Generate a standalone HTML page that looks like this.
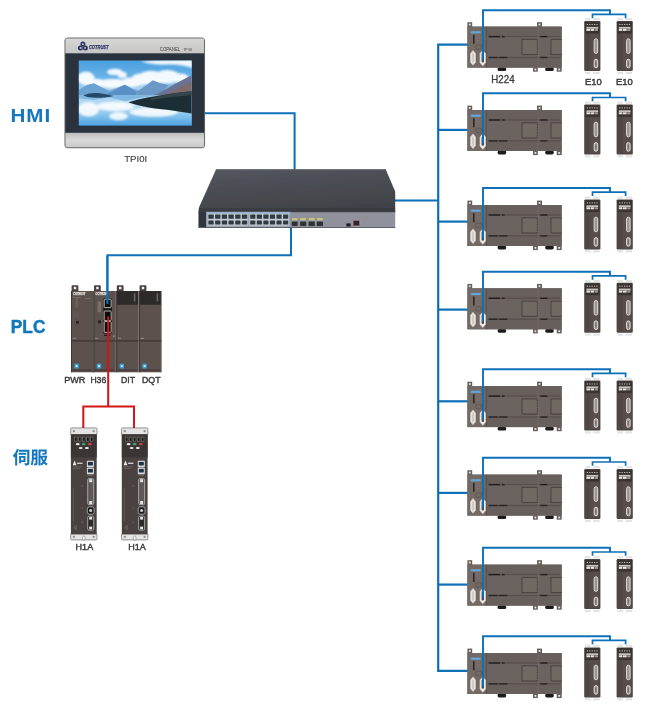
<!DOCTYPE html>
<html lang="zh">
<head>
<meta charset="utf-8">
<title>Network topology</title>
<style>
  html, body { margin: 0; padding: 0; background: #ffffff; }
  body { width: 650px; height: 721px; overflow: hidden; font-family: "Liberation Sans", sans-serif; }
  svg { display: block; }
  text { font-family: "Liberation Sans", sans-serif; }
</style>
</head>
<body>
<svg width="650" height="721" viewBox="0 0 650 721">
<rect x="0" y="0" width="650" height="721" fill="#ffffff"/>

<defs>
  <filter id="soft" x="0" y="0" width="650" height="721" filterUnits="userSpaceOnUse"><feGaussianBlur stdDeviation="0.4"/></filter>
  <filter id="soft2" x="-5%" y="-5%" width="110%" height="110%"><feGaussianBlur stdDeviation="0.3"/></filter>
  <filter id="cloud" x="-30%" y="-30%" width="160%" height="160%"><feGaussianBlur stdDeviation="0.9"/></filter>
  <filter id="mtn" x="-10%" y="-10%" width="120%" height="120%"><feGaussianBlur stdDeviation="0.4"/></filter>

  <linearGradient id="sky" x1="0" y1="0" x2="0" y2="1">
    <stop offset="0" stop-color="#4a9fdf"/>
    <stop offset="0.45" stop-color="#66b1e7"/>
    <stop offset="0.8" stop-color="#a6d2f0"/>
    <stop offset="1" stop-color="#c2e0f4"/>
  </linearGradient>
  <linearGradient id="water" x1="0" y1="0" x2="0" y2="1">
    <stop offset="0" stop-color="#a9d3f0"/>
    <stop offset="0.35" stop-color="#b7dcf4"/>
    <stop offset="0.7" stop-color="#7dbfec"/>
    <stop offset="1" stop-color="#4ea3e2"/>
  </linearGradient>
  <linearGradient id="silverTop" x1="0" y1="0" x2="0" y2="1">
    <stop offset="0" stop-color="#d6d6d4"/>
    <stop offset="1" stop-color="#c6c6c4"/>
  </linearGradient>
  <linearGradient id="silverBot" x1="0" y1="0" x2="0" y2="1">
    <stop offset="0" stop-color="#bdbdbd"/>
    <stop offset="0.5" stop-color="#d9d9d9"/>
    <stop offset="1" stop-color="#c9c9c9"/>
  </linearGradient>
  <linearGradient id="swTop" x1="0" y1="0" x2="0.3" y2="1">
    <stop offset="0" stop-color="#54565e"/>
    <stop offset="1" stop-color="#414349"/>
  </linearGradient>
  <clipPath id="screenClip"><rect x="78.8" y="60.6" width="113" height="64.8"/></clipPath>

  <!-- H224 PLC unit : local origin = body top-left, body 94.3 x 41 -->
  <g id="plc">
    <!-- mounting tabs -->
    <rect x="0" y="-4.4" width="4.8" height="5" fill="#665e5b"/>
    <rect x="1.5" y="-3" width="1.8" height="1.8" fill="#e8e4e2"/>
    <rect x="69.6" y="-4.4" width="5" height="5" fill="#665e5b"/>
    <rect x="71.2" y="-3" width="1.8" height="1.8" fill="#e8e4e2"/>
    <rect x="65.6" y="40.5" width="4.8" height="4.6" fill="#665e5b"/>
    <rect x="67.1" y="42" width="1.8" height="1.8" fill="#e8e4e2"/>
    <rect x="89.3" y="40.5" width="5" height="4.6" fill="#665e5b"/>
    <rect x="90.9" y="42" width="1.8" height="1.8" fill="#e8e4e2"/>
    <!-- feet clips -->
    <rect x="30.2" y="40.6" width="8.6" height="3.8" rx="1.6" fill="#1d1b1b"/>
    <rect x="77.8" y="40.6" width="8.6" height="3.8" rx="1.6" fill="#1d1b1b"/>
    <!-- body -->
    <rect x="0" y="0" width="94.3" height="41" fill="#6a625f"/>
    <rect x="0" y="0" width="18.8" height="41" fill="#736a66"/>
    <rect x="18.8" y="0" width="75.5" height="8.6" fill="#665e5b"/>
    <rect x="18.8" y="32.2" width="75.5" height="8.8" fill="#665e5b"/>
    <rect x="18.8" y="10.6" width="75.5" height="20" fill="#6b6360"/>
    <!-- terminal strips -->
    <rect x="20.5" y="9.3" width="73.8" height="1.3" fill="#574f4c"/>
    <rect x="20.5" y="30.2" width="73.8" height="1.3" fill="#574f4c"/>
    <rect x="21.3" y="9.3" width="11.5" height="1.4" fill="#231f1e"/>
    <rect x="34.6" y="9.3" width="2.6" height="1.4" fill="#231f1e"/>
    <rect x="73" y="9.3" width="7" height="1.4" fill="#231f1e"/>
    <rect x="21.3" y="30.2" width="9" height="1.4" fill="#2b2625"/>
    <rect x="31.5" y="30.2" width="8.5" height="1.4" fill="#2b2625"/>
    <rect x="73" y="30.2" width="7" height="1.4" fill="#2b2625"/>
    <!-- panels -->
    <rect x="54.6" y="12.8" width="15.4" height="15.2" fill="#6f6764" stroke="#48413f" stroke-width="1"/>
    <path d="M94.3,12.8 H83.6 V28 H94.3" fill="#6f6764" stroke="#48413f" stroke-width="1"/>
    <!-- seam -->
    <line x1="70.6" y1="-0.5" x2="70.6" y2="41" stroke="#7d716d" stroke-width="0.9" stroke-dasharray="1.6 1"/>
    <line x1="18.8" y1="0" x2="18.8" y2="41" stroke="#564b48" stroke-width="0.9"/>
    <!-- left section details -->
    <rect x="3.4" y="4.6" width="9.8" height="2.2" fill="#62a7da"/>
    <rect x="5.6" y="8.2" width="1.6" height="9" fill="#2e2827"/>
    <rect x="8.6" y="8.6" width="4" height="0.8" fill="#7d716d"/>
    <rect x="8.6" y="11" width="4" height="0.8" fill="#7d716d"/>
    <rect x="8.6" y="13.4" width="4" height="0.8" fill="#7d716d"/>
    <rect x="8.6" y="18.2" width="5.4" height="4.4" rx="1" fill="none" stroke="#5a4f4c" stroke-width="0.7"/>
    <!-- D-sub connectors -->
    <path d="M3.1,27 L5.6,23.9 L8.1,27 V35.6 L5.6,38.6 L3.1,35.6 Z" fill="#e9e6e2" stroke="#d6d2ce" stroke-width="0.6"/>
    <path d="M4.6,27.4 L5.6,26.2 L6.6,27.4 V35.2 L5.6,36.4 L4.6,35.2 Z" fill="#cfcac5"/>
    <path d="M12.6,27 L15.4,23.9 L18.2,27 V36 L15.4,39.2 L12.6,36 Z" fill="#eeebe8" stroke="#dad6d2" stroke-width="0.6"/>
    <rect x="14.2" y="26.4" width="2.4" height="9.4" rx="1" fill="#4a5058"/>
  </g>

  <!-- E10 module: local origin = body top-left, body 16.2 x 50 -->
  <g id="e10">
    <rect x="0.8" y="-2.8" width="14.6" height="2.2" fill="#e3e3e3"/>
    <rect x="6.4" y="-2.9" width="2.6" height="2.4" fill="#ffffff"/>
    <rect x="0.8" y="50.8" width="14.6" height="2.2" fill="#e3e3e3"/>
    <rect x="6.4" y="50.7" width="2.6" height="2.4" fill="#ffffff"/>
    <rect x="0" y="0" width="16.2" height="50" rx="1.2" fill="#4d4543"/>
    <rect x="0.9" y="0.8" width="14.4" height="11.6" fill="#3a3332"/>
    <rect x="1.2" y="13" width="13.8" height="35.8" fill="#584e4b"/>
    <rect x="1.2" y="13" width="5" height="35.8" fill="#504745"/>
    <!-- leds -->
    <g fill="#c9c3bf">
      <rect x="2.6" y="3" width="1.2" height="1"/><rect x="5" y="3" width="1.2" height="1"/>
      <rect x="7.4" y="3" width="1.2" height="1"/><rect x="9.8" y="3" width="1.2" height="1"/>
      <rect x="12.2" y="3" width="1.2" height="1"/>
    </g>
    <rect x="2.2" y="5.9" width="11.8" height="1.8" fill="#c9c2bd"/>
    <rect x="2.2" y="7.9" width="3.6" height="2" fill="#e6e2df"/>
    <rect x="6.4" y="7.9" width="3.6" height="2" fill="#e6e2df"/>
    <rect x="10.6" y="7.9" width="3.2" height="2" fill="#a09791"/>
    <!-- connectors -->
    <rect x="10" y="17.8" width="3.5" height="14.6" rx="1.75" fill="#9a9491" stroke="#e0dcd9" stroke-width="1"/>
    <rect x="10" y="38.2" width="3.5" height="8.6" rx="1.75" fill="#9a9491" stroke="#e0dcd9" stroke-width="1"/>
    <rect x="11.2" y="40.6" width="1.1" height="3.8" fill="#6b6461"/>
  </g>

  <!-- Servo drive: local origin = top-left of top bracket; 27 x 112.6 -->
  <g id="servo">
    <rect x="0.3" y="0.3" width="26.4" height="7" rx="1" fill="#e4e4e4" stroke="#6d6d6d" stroke-width="0.7"/>
    <circle cx="3.6" cy="3.6" r="1.1" fill="#8a8a8a"/><circle cx="23.4" cy="3.6" r="1.1" fill="#8a8a8a"/>
    <rect x="0.3" y="106" width="26.4" height="6.3" rx="1" fill="#e4e4e4" stroke="#6d6d6d" stroke-width="0.7"/>
    <circle cx="3.6" cy="109.2" r="1.1" fill="#8a8a8a"/><circle cx="23.4" cy="109.2" r="1.1" fill="#8a8a8a"/>
    <path d="M12.3,112.4 V109.6 a1.2,1.2 0 0 1 2.4,0 V112.4 Z" fill="#ffffff" stroke="#6d6d6d" stroke-width="0.5"/>
    <rect x="0.6" y="6.8" width="25.8" height="100" fill="#4a4240"/>
    <rect x="0.6" y="6.8" width="25.8" height="23" fill="#3b3534"/>
    <rect x="2" y="8" width="23" height="15.4" rx="0.8" fill="#3a3535"/>
    <rect x="3.6" y="9.2" width="19.8" height="4.8" fill="#1b1919"/>
    <!-- 7-seg displays -->
    <g fill="none" stroke="#8f8a86" stroke-width="0.6">
      <rect x="4" y="9.4" width="2.8" height="4.2"/><rect x="8" y="9.4" width="2.8" height="4.2"/>
      <rect x="12" y="9.4" width="2.8" height="4.2"/><rect x="16" y="9.4" width="2.8" height="4.2"/>
      <rect x="20" y="9.4" width="2.8" height="4.2"/>
    </g>
    <ellipse cx="7.4" cy="16.6" rx="2" ry="1.1" fill="#e8e8e8"/>
    <ellipse cx="13.4" cy="16.6" rx="2" ry="1.1" fill="#3fa86b"/>
    <ellipse cx="19.6" cy="16.6" rx="2" ry="1.1" fill="#d8453f"/>
    <ellipse cx="10.4" cy="20.4" rx="2" ry="1.1" fill="#e8e8e8"/>
    <ellipse cx="16.6" cy="20.4" rx="2" ry="1.1" fill="#f4f4f4"/>
    <!-- logo -->
    <path d="M2.4,37.6 L4.3,33 L6.2,37.6 Z" fill="#e8e8e8"/>
    <rect x="6.8" y="35" width="5.4" height="1.4" fill="#cfcac7"/>
    <rect x="2.6" y="39" width="9" height="0.6" fill="#7a706c"/>
    <rect x="2.6" y="40.4" width="7" height="0.6" fill="#7a706c"/>
    <!-- RJ45 -->
    <rect x="16.6" y="33.2" width="7" height="6.4" rx="0.6" fill="#d9dde2"/>
    <rect x="17.6" y="34.3" width="5" height="3.6" fill="#233345"/>
    <rect x="16.6" y="40.2" width="7" height="6.4" rx="0.6" fill="#d9dde2"/>
    <rect x="17.6" y="41.3" width="5" height="3.6" fill="#233345"/>
    <rect x="17" y="47.2" width="6" height="0.7" fill="#8a807c"/>
    <!-- D-sub -->
    <rect x="17.4" y="51" width="6" height="26" rx="1.2" fill="#5f5856" stroke="#b9b9b9" stroke-width="0.8"/>
    <rect x="18.9" y="51.6" width="3" height="3" fill="#e2e2e2"/>
    <rect x="18.9" y="73.4" width="3" height="3" fill="#e2e2e2"/>
    <!-- round -->
    <rect x="17" y="79.2" width="6.8" height="7.4" rx="2" fill="#1f1c1c" stroke="#b9b9b9" stroke-width="0.8"/>
    <circle cx="20.4" cy="82.9" r="1.5" fill="#cfcfcf"/>
    <!-- lower -->
    <rect x="17.4" y="88.6" width="6" height="14" rx="1.2" fill="#2d2928" stroke="#b9b9b9" stroke-width="0.8"/>
    <rect x="18.9" y="89.4" width="3" height="2.6" fill="#e2e2e2"/>
    <rect x="18.9" y="99" width="3" height="2.8" fill="#e2e2e2"/>
    <path d="M3.4,100 L6,98 V102 Z" fill="none" stroke="#8a807c" stroke-width="0.5"/>
    <g fill="#80766f"><rect x="11.4" y="58" width="1.2" height="1"/><rect x="11.4" y="80" width="1.2" height="1"/><rect x="11.4" y="94" width="1.2" height="1"/></g>
    <rect x="2.6" y="60" width="0.7" height="34" fill="#6a605c"/>
  </g>
</defs>

<g filter="url(#soft)">
<g fill="none" stroke="#0b70b8" stroke-linejoin="miter" stroke-linecap="butt">
<path stroke-width="2" d="M204.5,113.2 H294.6 V170"/>
<path stroke-width="2" d="M291,227.5 V255.2 H107.4 V304"/>
<path stroke-width="2" d="M395,200.6 H438.2"/>
<path stroke-width="2.2" d="M467.9,44.7 H438.2 V670.9 H467.9"/>
<path stroke-width="2.2" d="M438.2,129.9 H467.9"/>
<path stroke-width="2.2" d="M438.2,221.6 H467.9"/>
<path stroke-width="2.2" d="M438.2,309.6 H467.9"/>
<path stroke-width="2.2" d="M438.2,401.3 H467.9"/>
<path stroke-width="2.2" d="M438.2,492.9 H467.9"/>
<path stroke-width="2.2" d="M438.2,584.6 H467.9"/>
</g>

<g id="hmi">
  <rect x="65.1" y="38.1" width="139.3" height="109.6" rx="3" fill="#cfcfcf" stroke="#6c6c6c" stroke-width="1.3"/>
  <rect x="65.6" y="38.6" width="138.3" height="15" fill="url(#silverTop)"/>
  <rect x="65.6" y="132.8" width="138.3" height="14.4" fill="url(#silverBot)"/>
  <rect x="65.3" y="53.3" width="138.9" height="79.5" fill="#2a323c"/>
  <!-- screen -->
  <rect x="78.8" y="60.6" width="113" height="64.8" fill="#4aa0de"/>
  <g clip-path="url(#screenClip)">
    <g transform="translate(75,55) scale(0.18769)"><rect x="20" y="30" width="602" height="190" fill="url(#sky)"/></g>
    <!-- clouds -->
    <g filter="url(#cloud)" opacity="0.92"><g transform="translate(75,55) scale(0.18769)" fill="#ffffff">
      <path d="M350,34 Q450,22 626,22 V70 Q560,46 470,52 Q400,50 350,34Z"/>
      <ellipse cx="212" cy="90" rx="42" ry="17"/><ellipse cx="252" cy="106" rx="24" ry="17"/>
      <ellipse cx="58" cy="124" rx="46" ry="36"/><ellipse cx="105" cy="150" rx="60" ry="24"/>
      <ellipse cx="200" cy="152" rx="85" ry="24"/><ellipse cx="300" cy="146" rx="55" ry="26"/>
      <ellipse cx="345" cy="130" rx="46" ry="32"/>
      <ellipse cx="405" cy="122" rx="70" ry="38"/><ellipse cx="490" cy="116" rx="70" ry="36"/>
      <ellipse cx="560" cy="124" rx="46" ry="26"/>
    </g></g>
    <!-- mountains -->
    <g filter="url(#mtn)"><g transform="translate(75,55) scale(0.18769)">
      <path d="M20,185 L60,160 L100,150 L140,170 L180,188 L220,176 L265,158 L310,180 L345,186 L380,160 L415,135 L450,150 L500,160 L540,150 L622,108 V220 H20Z" fill="#86b2d9"/>
      <path d="M20,186 L60,162 L100,152 L140,172 L185,196 L190,220 H20Z" fill="#6ba3d3"/>
      <path d="M175,204 L225,178 L265,158 L300,178 L335,198 L345,220 H175Z" fill="#5a90c6"/>
      <path d="M325,198 L380,162 L415,136 L455,151 L500,161 L470,192 L430,220 H325Z" fill="#6c98c8"/>
      <path d="M410,220 L480,185 L540,150 L622,108 V220Z" fill="#6a7296"/>
      <path d="M470,220 L560,172 L622,142 V220Z" fill="#7f6a6c"/>
    </g></g>
    <!-- water -->
    <g transform="translate(75,55) scale(0.18769)"><rect x="20" y="215" width="602" height="162" fill="url(#water)"/></g>
    <g filter="url(#mtn)"><g transform="translate(75,55) scale(0.18769)">
      <path d="M20,215 H430 L330,232 L265,246 L225,236 L180,226 L100,240 L20,232Z" fill="#77b2e0" opacity="0.8"/>
    </g></g>
    <g filter="url(#cloud)" opacity="0.85"><g transform="translate(75,55) scale(0.18769)" fill="#ffffff">
      <ellipse cx="72" cy="290" rx="56" ry="38"/>
      <ellipse cx="215" cy="274" rx="100" ry="25"/>
      <ellipse cx="232" cy="326" rx="50" ry="22"/>
      <ellipse cx="420" cy="304" rx="130" ry="25"/>
    </g></g>
    <g filter="url(#mtn)"><g transform="translate(75,55) scale(0.18769)">
      <path d="M45,215 Q80,200 120,203 Q170,208 205,218 Q170,229 90,227 Q55,225 45,215Z" fill="#264a66"/>
      <path d="M285,252 Q330,236 380,228 Q450,215 520,205 Q580,198 622,195 V312 Q560,302 500,293 Q420,286 360,273 Q310,263 285,252Z" fill="#1c2e36"/>
      <path d="M400,232 Q500,205 622,192 V215 Q520,222 400,240Z" fill="#34454a"/>
    </g></g>
  </g>
  <!-- logo -->
  <g fill="#2a3566">
    <circle cx="82.9" cy="43.9" r="2.5"/><circle cx="80.4" cy="48.1" r="2.5"/><circle cx="85.4" cy="48.1" r="2.5"/>
  </g>
  <g fill="#d4d4d4"><circle cx="82.9" cy="44.2" r="0.9"/><circle cx="80.7" cy="47.9" r="0.9"/><circle cx="85.1" cy="47.9" r="0.9"/></g>
  <text x="88.9" y="49.4" font-family="Liberation Sans, sans-serif" font-weight="700" font-style="italic" font-size="5.8" fill="#2a3566" stroke="#2a3566" stroke-width="0.25" textLength="19.6" lengthAdjust="spacingAndGlyphs">COTRUST</text>
  <text x="159.8" y="50.8" font-family="Liberation Sans, sans-serif" font-size="5" fill="#3b3b3b" textLength="20.4" lengthAdjust="spacingAndGlyphs">COPANEL</text>
  <text x="183.2" y="50.6" font-family="Liberation Sans, sans-serif" font-size="3.4" fill="#3b3b3b" textLength="9" lengthAdjust="spacingAndGlyphs">TP I0I</text>
</g>


<g id="switch">
  <!-- top cover -->
  <path d="M216,169.5 H385.8 L395.2,191.6 V212 H198.6 V210.4 Q198.6,208.4 199.4,206.6 Z" fill="url(#swTop)"/>
  <rect x="199" y="208.2" width="196.2" height="3.4" fill="#34363c" opacity="0.6"/>
  <path d="M216.2,169.3 H385.8 L386.4,170.6 H215.6 Z" fill="#5d6068"/>
  <!-- front face -->
  <rect x="198.6" y="211.6" width="196.6" height="16.2" fill="#8f919c"/>
  <rect x="198.6" y="211.6" width="7.6" height="16.2" fill="#33353b"/>
  <rect x="206.2" y="211.6" width="84" height="16.2" fill="#9aa6b4"/>
  <rect x="198.6" y="227" width="196.6" height="1" fill="#5d5f68"/>
  <rect x="198.6" y="211.2" width="196.6" height="1" fill="#383a40"/>
  <rect x="206.2" y="211.9" width="84" height="1.9" fill="#9db5d4"/>
  <!-- port groups -->
  <rect x="207.6" y="213.8" width="40.2" height="11.8" fill="#c4cbd3"/>
  <rect x="249.4" y="213.8" width="39.4" height="11.8" fill="#c4cbd3"/>
  <g fill="#2f3a40">
    <rect x="208.40" y="214.6" width="5.30" height="4.2" rx="0.6"/>
    <rect x="208.40" y="220.4" width="5.30" height="4.2" rx="0.6"/>
    <rect x="215.10" y="214.6" width="5.30" height="4.2" rx="0.6"/>
    <rect x="215.10" y="220.4" width="5.30" height="4.2" rx="0.6"/>
    <rect x="221.80" y="214.6" width="5.30" height="4.2" rx="0.6"/>
    <rect x="221.80" y="220.4" width="5.30" height="4.2" rx="0.6"/>
    <rect x="228.50" y="214.6" width="5.30" height="4.2" rx="0.6"/>
    <rect x="228.50" y="220.4" width="5.30" height="4.2" rx="0.6"/>
    <rect x="235.20" y="214.6" width="5.30" height="4.2" rx="0.6"/>
    <rect x="235.20" y="220.4" width="5.30" height="4.2" rx="0.6"/>
    <rect x="241.90" y="214.6" width="5.30" height="4.2" rx="0.6"/>
    <rect x="241.90" y="220.4" width="5.30" height="4.2" rx="0.6"/>
    <rect x="250.20" y="214.6" width="5.17" height="4.2" rx="0.6"/>
    <rect x="250.20" y="220.4" width="5.17" height="4.2" rx="0.6"/>
    <rect x="256.77" y="214.6" width="5.17" height="4.2" rx="0.6"/>
    <rect x="256.77" y="220.4" width="5.17" height="4.2" rx="0.6"/>
    <rect x="263.33" y="214.6" width="5.17" height="4.2" rx="0.6"/>
    <rect x="263.33" y="220.4" width="5.17" height="4.2" rx="0.6"/>
    <rect x="269.90" y="214.6" width="5.17" height="4.2" rx="0.6"/>
    <rect x="269.90" y="220.4" width="5.17" height="4.2" rx="0.6"/>
    <rect x="276.47" y="214.6" width="5.17" height="4.2" rx="0.6"/>
    <rect x="276.47" y="220.4" width="5.17" height="4.2" rx="0.6"/>
    <rect x="283.03" y="214.6" width="5.17" height="4.2" rx="0.6"/>
    <rect x="283.03" y="220.4" width="5.17" height="4.2" rx="0.6"/>
  </g>
  <!-- SFP -->
  <g fill="#c9c27a">
    <rect x="292" y="218" width="5.4" height="2.4"/><rect x="300.2" y="218" width="5.8" height="2.4"/>
    <rect x="308.8" y="218" width="5.8" height="2.4"/><rect x="317" y="218" width="5.8" height="2.4"/>
  </g>
  <g fill="#2e3036">
    <rect x="291.8" y="221.6" width="5.8" height="4.4" rx="0.5"/><rect x="300.2" y="221.6" width="6" height="4.4" rx="0.5"/>
    <rect x="308.6" y="221.6" width="6.2" height="4.4" rx="0.5"/><rect x="316.8" y="221.6" width="6.2" height="4.4" rx="0.5"/>
  </g>
  <rect x="346.4" y="223.4" width="4.2" height="3" fill="#1e1f24"/>
  <rect x="353" y="220.2" width="6.8" height="5.8" rx="0.6" fill="#2a2c32" stroke="#d59aa4" stroke-width="0.7"/>
</g>


<g id="rack">
  <rect x="71.6" y="285.2" width="6.8" height="6.4" rx="0.8" fill="#4a4240"/>
  <rect x="73.8" y="286.8" width="2.4" height="2.4" fill="#f4f2f0"/>
  <rect x="71.0" y="291" width="22.4" height="81.3" fill="#5b514e"/>
  <rect x="71.0" y="291" width="0.9" height="81.3" fill="#3b3432"/>
  <rect x="92.8" y="291" width="0.6" height="81.3" fill="#6a5f5b"/>
  <text x="73.2" y="295.3" font-size="3.6" font-weight="700" font-style="italic" fill="#e6e2df" stroke="#e6e2df" stroke-width="0.25" textLength="12.2" lengthAdjust="spacingAndGlyphs">COTRUST</text>
  <rect x="71.0" y="340.3" width="22.4" height="1.2" fill="#3d3634"/>
  <rect x="72.6" y="337.8" width="3.4" height="0.9" fill="#9a908b"/>
  <rect x="74.4" y="363.8" width="4.4" height="4.8" rx="0.6" fill="#35a4e4"/>
  <rect x="75.7" y="365.2" width="1.8" height="1.8" fill="#d6eefb"/>
  <rect x="72.2" y="369.6" width="20.0" height="1" fill="#3d3634"/>
  <rect x="94.0" y="285.2" width="6.8" height="6.4" rx="0.8" fill="#4a4240"/>
  <rect x="96.2" y="286.8" width="2.4" height="2.4" fill="#f4f2f0"/>
  <rect x="93.4" y="291" width="22.4" height="81.3" fill="#5b514e"/>
  <rect x="93.4" y="291" width="0.9" height="81.3" fill="#3b3432"/>
  <rect x="115.2" y="291" width="0.6" height="81.3" fill="#6a5f5b"/>
  <text x="95.6" y="295.3" font-size="3.6" font-weight="700" font-style="italic" fill="#e6e2df" stroke="#e6e2df" stroke-width="0.25" textLength="12.2" lengthAdjust="spacingAndGlyphs">COTRUST</text>
  <rect x="93.4" y="340.3" width="22.4" height="1.2" fill="#3d3634"/>
  <rect x="95.0" y="337.8" width="3.4" height="0.9" fill="#9a908b"/>
  <rect x="96.8" y="363.8" width="4.4" height="4.8" rx="0.6" fill="#35a4e4"/>
  <rect x="98.1" y="365.2" width="1.8" height="1.8" fill="#d6eefb"/>
  <rect x="94.6" y="369.6" width="20.0" height="1" fill="#3d3634"/>
  <rect x="116.8" y="285.2" width="6.8" height="6.4" rx="0.8" fill="#4a4240"/>
  <rect x="119.0" y="286.8" width="2.4" height="2.4" fill="#f4f2f0"/>
  <rect x="116.2" y="291" width="22.4" height="81.3" fill="#5b514e"/>
  <rect x="116.2" y="291" width="0.9" height="81.3" fill="#3b3432"/>
  <rect x="138.0" y="291" width="0.6" height="81.3" fill="#6a5f5b"/>
  <rect x="117.1" y="291" width="20.9" height="13.8" fill="#2f2b2b"/>
  <rect x="133.8" y="293.4" width="1.6" height="8" fill="#6d6662"/>
  <rect x="116.2" y="340.3" width="22.4" height="1.2" fill="#3d3634"/>
  <rect x="117.8" y="337.8" width="3.4" height="0.9" fill="#9a908b"/>
  <rect x="119.6" y="363.8" width="4.4" height="4.8" rx="0.6" fill="#35a4e4"/>
  <rect x="120.9" y="365.2" width="1.8" height="1.8" fill="#d6eefb"/>
  <rect x="117.4" y="369.6" width="20.0" height="1" fill="#3d3634"/>
  <rect x="139.6" y="285.2" width="6.8" height="6.4" rx="0.8" fill="#4a4240"/>
  <rect x="141.8" y="286.8" width="2.4" height="2.4" fill="#f4f2f0"/>
  <rect x="139.0" y="291" width="22.4" height="81.3" fill="#5b514e"/>
  <rect x="139.0" y="291" width="0.9" height="81.3" fill="#3b3432"/>
  <rect x="160.8" y="291" width="0.6" height="81.3" fill="#6a5f5b"/>
  <rect x="139.9" y="291" width="20.9" height="13.8" fill="#2f2b2b"/>
  <rect x="156.6" y="293.4" width="1.6" height="8" fill="#6d6662"/>
  <rect x="139.0" y="340.3" width="22.4" height="1.2" fill="#3d3634"/>
  <rect x="140.6" y="337.8" width="3.4" height="0.9" fill="#9a908b"/>
  <rect x="142.4" y="363.8" width="4.4" height="4.8" rx="0.6" fill="#35a4e4"/>
  <rect x="143.7" y="365.2" width="1.8" height="1.8" fill="#d6eefb"/>
  <rect x="140.2" y="369.6" width="20.0" height="1" fill="#3d3634"/>
  <rect x="75.6" y="298" width="2.6" height="9.6" fill="#6b615d"/>
  <rect x="73" y="297" width="8" height="0.7" fill="#80756f"/>
  <rect x="72.6" y="312.6" width="6.6" height="5" fill="#615754"/>
  <rect x="76" y="321" width="2.8" height="2.6" fill="#252120"/>
  <rect x="84.6" y="298" width="6" height="0.7" fill="#80756f"/>
  <rect x="97.6" y="301.6" width="3.4" height="10.6" fill="#7a706b"/>
  <rect x="98.2" y="320.4" width="2.8" height="3" fill="#252120"/>
  <rect x="103.4" y="298.2" width="8.6" height="35.4" rx="0.8" fill="#1b1818"/>
  <rect x="104.2" y="299.2" width="7" height="8.4" rx="0.8" fill="#101010" stroke="#d9d9d9" stroke-width="0.8"/>
  <rect x="104.2" y="311" width="7" height="9.6" rx="0.8" fill="#101010" stroke="#d9d9d9" stroke-width="0.8"/>
  <rect x="104.2" y="321.6" width="7" height="10.8" rx="0.8" fill="#101010" stroke="#d9d9d9" stroke-width="0.8"/>
  <rect x="104" y="334.6" width="6" height="1.2" fill="#1b1818"/>
  <rect x="113" y="335.4" width="1.4" height="1.6" fill="#9a908b"/>
</g>


<g id="servos">
  <use href="#servo" x="70.3" y="427.6"/>
  <use href="#servo" x="121.2" y="427.6"/>
</g>

<g id="units">
<use href="#plc" x="467.4" y="26.6"/>
<use href="#e10" x="584.2" y="21.0"/>
<use href="#e10" x="616.6" y="21.0"/>
<use href="#plc" x="467.4" y="110.0"/>
<use href="#e10" x="584.2" y="104.4"/>
<use href="#e10" x="616.6" y="104.4"/>
<use href="#plc" x="467.4" y="205.0"/>
<use href="#e10" x="584.2" y="199.4"/>
<use href="#e10" x="616.6" y="199.4"/>
<use href="#plc" x="467.4" y="288.3"/>
<use href="#e10" x="584.2" y="282.7"/>
<use href="#e10" x="616.6" y="282.7"/>
<use href="#plc" x="467.4" y="386.1"/>
<use href="#e10" x="584.2" y="380.5"/>
<use href="#e10" x="616.6" y="380.5"/>
<use href="#plc" x="467.4" y="474.6"/>
<use href="#e10" x="584.2" y="469.0"/>
<use href="#e10" x="616.6" y="469.0"/>
<use href="#plc" x="467.4" y="564.6"/>
<use href="#e10" x="584.2" y="559.0"/>
<use href="#e10" x="616.6" y="559.0"/>
<use href="#plc" x="467.4" y="653.0"/>
<use href="#e10" x="584.2" y="647.4"/>
<use href="#e10" x="616.6" y="647.4"/>
</g>
<g fill="none" stroke="#0b70b8" stroke-linejoin="miter">
<path stroke-width="1.9" d="M483,59.6 V10.2 H610 V14.4"/>
<path stroke-width="1.7" d="M592.5,18.2 V14.4 H625.6 V18.2"/>
<path stroke-width="1.9" d="M483,143.0 V93.3 H610 V97.5"/>
<path stroke-width="1.7" d="M592.5,101.3 V97.5 H625.6 V101.3"/>
<path stroke-width="1.9" d="M483,238.0 V188.0 H610 V192.2"/>
<path stroke-width="1.7" d="M592.5,196.0 V192.2 H625.6 V196.0"/>
<path stroke-width="1.9" d="M483,321.3 V271.7 H610 V275.9"/>
<path stroke-width="1.7" d="M592.5,279.7 V275.9 H625.6 V279.7"/>
<path stroke-width="1.9" d="M483,419.1 V369.2 H610 V373.4"/>
<path stroke-width="1.7" d="M592.5,377.2 V373.4 H625.6 V377.2"/>
<path stroke-width="1.9" d="M483,507.6 V457.8 H610 V462.0"/>
<path stroke-width="1.7" d="M592.5,465.8 V462.0 H625.6 V465.8"/>
<path stroke-width="1.9" d="M483,597.6 V547.8 H610 V552.0"/>
<path stroke-width="1.7" d="M592.5,555.8 V552.0 H625.6 V555.8"/>
<path stroke-width="1.9" d="M483,686.0 V636.2 H610 V640.4"/>
<path stroke-width="1.7" d="M592.5,644.2 V640.4 H625.6 V644.2"/>
</g>

<g fill="none" stroke="#d41213" stroke-width="2" stroke-linejoin="miter">
  <path d="M108.2,316.4 V406.6"/>
  <path d="M83.3,428 V406.6 H134 V428"/>
</g>

<path d="M107.4,256 V304" fill="none" stroke="#0b70b8" stroke-width="2"/>

<g font-family="Liberation Sans, sans-serif" fill="#3c3c3c" stroke="#3c3c3c" stroke-width="0.45" font-size="9.6">
  <text x="124.2" y="162.2" stroke-width="0.12" textLength="23" lengthAdjust="spacingAndGlyphs">TPI0I</text>
  <text x="64.2" y="383.3" textLength="21.2" lengthAdjust="spacingAndGlyphs">PWR</text>
  <text x="90.4" y="383.3" textLength="15.8" lengthAdjust="spacingAndGlyphs">H36</text>
  <text x="121" y="383.3" textLength="14" lengthAdjust="spacingAndGlyphs">DIT</text>
  <text x="142" y="383.3" textLength="18.6" lengthAdjust="spacingAndGlyphs">DQT</text>
  <text x="75.6" y="550.2" textLength="17.6" lengthAdjust="spacingAndGlyphs">H1A</text>
  <text x="128.2" y="550.2" textLength="17.6" lengthAdjust="spacingAndGlyphs">H1A</text>
  <text x="491.3" y="83.1" font-size="10.2" stroke-width="0.3" textLength="23.3" lengthAdjust="spacingAndGlyphs">H224</text>
  <text x="585" y="84.8" font-size="9.8" textLength="16.8" lengthAdjust="spacingAndGlyphs">E10</text>
  <text x="616" y="84.8" font-size="9.8" textLength="16.8" lengthAdjust="spacingAndGlyphs">E10</text>
</g>
<g font-family="Liberation Sans, sans-serif" font-weight="700" fill="#1277bf" font-size="18.8">
  <text x="10.4" y="122.2" textLength="41" lengthAdjust="spacingAndGlyphs" letter-spacing="1">HMI</text>
  <text x="10.8" y="332.6" stroke="#1277bf" stroke-width="0.5" textLength="34.6" lengthAdjust="spacingAndGlyphs">PLC</text>
</g>
<g fill="#1277bf" transform="translate(12.7,463.9) scale(0.01775,-0.01775)" role="img" aria-label="伺服">
  <title>伺服</title>
  <path d="M337 622V518H762V622ZM350 799V691H818V54C818 37 812 31 794 30C774 30 711 29 654 33C671 1 689 -56 694 -90C784 -90 844 -87 884 -67C925 -48 939 -12 939 53V799ZM472 348H609V211H472ZM361 449V41H472V110H720V449ZM236 846C187 703 102 560 14 470C33 441 65 375 76 345C97 368 118 393 138 420V-88H253V603C289 670 321 741 347 810Z"/>
  <path transform="translate(990,0)" d="M91 815V450C91 303 87 101 24 -36C51 -46 100 -74 121 -91C163 0 183 123 192 242H296V43C296 29 292 25 280 25C268 25 230 24 194 26C209 -4 223 -59 226 -90C292 -90 335 -87 367 -67C399 -48 407 -14 407 41V815ZM199 704H296V588H199ZM199 477H296V355H198L199 450ZM826 356C810 300 789 248 762 201C731 248 705 301 685 356ZM463 814V-90H576V-8C598 -29 624 -65 637 -88C685 -59 729 -23 768 20C810 -24 857 -61 910 -90C927 -61 960 -19 985 2C929 28 879 65 836 109C892 199 933 311 956 446L885 469L866 465H576V703H810V622C810 610 805 607 789 606C774 605 714 605 664 608C678 580 694 538 699 507C775 507 833 507 873 523C914 538 925 567 925 620V814ZM582 356C612 264 650 180 699 108C663 65 621 30 576 4V356Z"/>
</g>

</g>
</svg>
</body>
</html>
